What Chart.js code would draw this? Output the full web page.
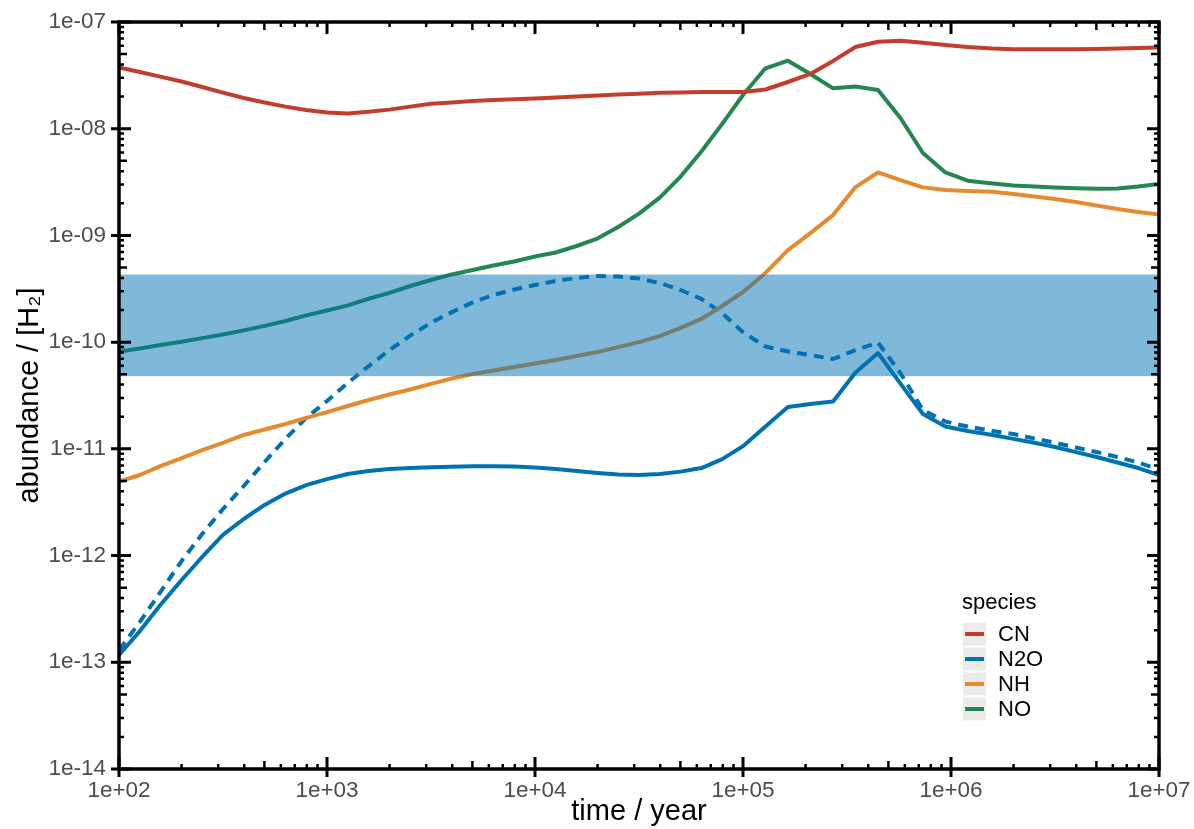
<!DOCTYPE html>
<html lang="en">
<head>
<meta charset="UTF-8">
<title>Abundance vs time</title>
<script src="https://cdn.jsdelivr.net/npm/chart.js@4.4.1/dist/chart.umd.min.js"></script>
<style>
  html, body { margin: 0; padding: 0; background: #fff; }
  #wrap { width: 1194px; height: 829px; }
</style>
</head>
<body>
<div id="wrap"><canvas id="abund"></canvas></div>
<script>
// time / year
const times = [
  100, 126, 158, 200, 251, 316, 398, 501, 631, 794,
  1000, 1259, 1585, 1995, 2512, 3162, 3981, 5012, 6310, 7943,
  10000, 12589, 15849, 19953, 25119, 31623, 39811, 50119, 63096, 79433,
  100000, 128230, 164440, 210860, 271020, 347540, 445660, 571480, 732820, 939720,
  1202000, 1585000, 1995000, 2512000, 3162000, 3981000, 5012000, 6310000, 7943000, 10000000
];

const cn = [
  3.75e-8, 3.40e-8, 3.08e-8, 2.77e-8, 2.46e-8, 2.18e-8, 1.94e-8, 1.76e-8, 1.61e-8, 1.50e-8,
  1.42e-8, 1.39e-8, 1.44e-8, 1.51e-8, 1.61e-8, 1.71e-8, 1.76e-8, 1.82e-8, 1.86e-8, 1.89e-8,
  1.92e-8, 1.96e-8, 2.00e-8, 2.05e-8, 2.09e-8, 2.13e-8, 2.17e-8, 2.19e-8, 2.21e-8, 2.21e-8,
  2.21e-8, 2.33e-8, 2.74e-8, 3.26e-8, 4.32e-8, 5.83e-8, 6.53e-8, 6.68e-8, 6.40e-8, 6.08e-8,
  5.83e-8, 5.65e-8, 5.56e-8, 5.55e-8, 5.55e-8, 5.56e-8, 5.58e-8, 5.65e-8, 5.70e-8, 5.77e-8
];

const n2o = [
  1.17e-13, 1.96e-13, 3.44e-13, 5.90e-13, 9.70e-13, 1.56e-12, 2.20e-12, 2.98e-12, 3.81e-12, 4.58e-12,
  5.21e-12, 5.81e-12, 6.19e-12, 6.47e-12, 6.61e-12, 6.71e-12, 6.79e-12, 6.86e-12, 6.87e-12, 6.82e-12,
  6.68e-12, 6.47e-12, 6.19e-12, 5.94e-12, 5.75e-12, 5.69e-12, 5.81e-12, 6.12e-12, 6.61e-12, 8.02e-12,
  1.06e-11, 1.62e-11, 2.47e-11, 2.63e-11, 2.78e-11, 5.19e-11, 7.91e-11, 4.09e-11, 2.12e-11, 1.62e-11,
  1.47e-11, 1.35e-11, 1.24e-11, 1.14e-11, 1.04e-11, 9.33e-12, 8.39e-12, 7.45e-12, 6.61e-12, 5.69e-12
];

// second N2O run (dashed)
const n2oAlt = [
  1.30e-13, 2.39e-13, 4.55e-13, 8.89e-13, 1.59e-12, 2.73e-12, 4.49e-12, 7.53e-12, 1.24e-11, 1.95e-11,
  2.81e-11, 4.14e-11, 5.97e-11, 8.43e-11, 1.15e-10, 1.52e-10, 1.91e-10, 2.36e-10, 2.77e-10, 3.11e-10,
  3.43e-10, 3.74e-10, 3.99e-10, 4.17e-10, 4.12e-10, 3.94e-10, 3.58e-10, 3.08e-10, 2.54e-10, 1.87e-10,
  1.24e-10, 9.10e-11, 8.17e-11, 7.57e-11, 6.95e-11, 8.43e-11, 9.91e-11, 5.14e-11, 2.31e-11, 1.80e-11,
  1.62e-11, 1.47e-11, 1.38e-11, 1.25e-11, 1.14e-11, 1.03e-11, 9.33e-12, 8.39e-12, 7.45e-12, 6.40e-12
];

const nh = [
  4.94e-12, 5.69e-12, 6.90e-12, 8.20e-12, 9.75e-12, 1.14e-11, 1.35e-11, 1.52e-11, 1.71e-11, 1.95e-11,
  2.21e-11, 2.52e-11, 2.87e-11, 3.23e-11, 3.60e-11, 4.06e-11, 4.56e-11, 5.02e-11, 5.42e-11, 5.85e-11,
  6.31e-11, 6.81e-11, 7.41e-11, 8.07e-11, 8.99e-11, 1.00e-10, 1.14e-10, 1.36e-10, 1.65e-10, 2.18e-10,
  2.95e-10, 4.45e-10, 7.29e-10, 1.05e-9, 1.55e-9, 2.84e-9, 3.89e-9, 3.30e-9, 2.82e-9, 2.67e-9,
  2.61e-9, 2.57e-9, 2.44e-9, 2.32e-9, 2.19e-9, 2.06e-9, 1.91e-9, 1.77e-9, 1.66e-9, 1.57e-9
];

const no = [
  8.15e-11, 8.73e-11, 9.40e-11, 1.01e-10, 1.09e-10, 1.18e-10, 1.29e-10, 1.42e-10, 1.58e-10, 1.78e-10,
  1.98e-10, 2.21e-10, 2.55e-10, 2.90e-10, 3.36e-10, 3.82e-10, 4.31e-10, 4.74e-10, 5.22e-10, 5.70e-10,
  6.34e-10, 6.92e-10, 7.96e-10, 9.35e-10, 1.20e-9, 1.60e-9, 2.26e-9, 3.56e-9, 6.11e-9, 1.11e-8,
  2.07e-8, 3.68e-8, 4.34e-8, 3.26e-8, 2.39e-8, 2.49e-8, 2.31e-8, 1.26e-8, 5.92e-9, 3.89e-9,
  3.26e-9, 3.07e-9, 2.94e-9, 2.87e-9, 2.81e-9, 2.77e-9, 2.74e-9, 2.75e-9, 2.87e-9, 3.03e-9
];

const species = ['CN', 'N2O', 'NH', 'NO'];
const colors = ['#C33D2C', '#0072B2', '#E68A2E', '#23874F'];

// observed range shown as a band
const bandLow = 4.8e-11;
const bandHigh = 4.3e-10;

const xTicks = [1e2, 1e3, 1e4, 1e5, 1e6, 1e7];
const xTickLabels = ['1e+02', '1e+03', '1e+04', '1e+05', '1e+06', '1e+07'];
const yTicks = [1e-14, 1e-13, 1e-12, 1e-11, 1e-10, 1e-9, 1e-8, 1e-7];
const yTickLabels = ['1e-14', '1e-13', '1e-12', '1e-11', '1e-10', '1e-09', '1e-08', '1e-07'];

const FONT = '"Helvetica Neue", Helvetica, "Liberation Sans", Arial, sans-serif';

function pts(vals) {
  return times.map((t, i) => ({x: t, y: vals[i]}));
}

const bandPlugin = {
  id: 'band',
  afterDatasetsDraw(chart) {
    const {ctx, chartArea: a, scales: {y}} = chart;
    const top = y.getPixelForValue(bandHigh);
    const bot = y.getPixelForValue(bandLow);
    ctx.save();
    ctx.fillStyle = 'rgba(0, 114, 178, 0.5)';
    ctx.fillRect(a.left, top, a.right - a.left, bot - top);
    ctx.restore();
  }
};

const framePlugin = {
  id: 'frame',
  afterDraw(chart) {
    const {ctx, chartArea: a, scales: {x, y}} = chart;
    ctx.save();
    ctx.strokeStyle = '#000';
    ctx.lineCap = 'butt';
    // ticks
    for (const d of xTicks) {
      for (let m = 1; m <= 9; m++) {
        const v = m * d;
        if (v > x.max * 1.0001) break;
        const px = x.getPixelForValue(v);
        const len = m === 1 ? 12 : (m === 5 ? 8 : 5);
        ctx.lineWidth = m === 1 ? 3 : 2.5;
        ctx.beginPath();
        ctx.moveTo(px, a.bottom + (m === 1 ? 8 : 0));
        ctx.lineTo(px, a.bottom - len);
        ctx.moveTo(px, a.top);
        ctx.lineTo(px, a.top + len);
        ctx.stroke();
      }
    }
    for (const d of yTicks) {
      for (let m = 1; m <= 9; m++) {
        const v = m * d;
        if (v > y.max * 1.0001) break;
        const py = y.getPixelForValue(v);
        const len = m === 1 ? 12 : (m === 5 ? 8 : 5);
        ctx.lineWidth = m === 1 ? 3 : 2.5;
        ctx.beginPath();
        ctx.moveTo(a.left - (m === 1 ? 8 : 0), py);
        ctx.lineTo(a.left + len, py);
        ctx.moveTo(a.right, py);
        ctx.lineTo(a.right - len, py);
        ctx.stroke();
      }
    }
    ctx.lineWidth = 3.5;
    ctx.strokeRect(a.left, a.top, a.right - a.left, a.bottom - a.top);

    // legend
    const lx = a.right - 197;
    const ly = a.bottom - 166;
    ctx.font = '22px ' + FONT;
    ctx.fillStyle = '#000';
    ctx.textBaseline = 'middle';
    ctx.textAlign = 'left';
    ctx.fillText('species', lx, ly);
    species.forEach((s, i) => {
      const cy = ly + 31 + i * 25;
      ctx.fillStyle = '#EBEBEB';
      ctx.fillRect(lx + 1, cy - 11.5, 23, 23);
      ctx.strokeStyle = colors[i];
      ctx.lineWidth = 4;
      ctx.beginPath();
      ctx.moveTo(lx + 3, cy);
      ctx.lineTo(lx + 22, cy);
      ctx.stroke();
      ctx.fillStyle = '#000';
      ctx.fillText(s, lx + 36, cy + 1);
    });
    ctx.restore();
  }
};

const lineDefaults = {
  borderWidth: 4,
  pointRadius: 0,
  tension: 0,
  fill: false,
  borderJoinStyle: 'round'
};

new Chart(document.getElementById('abund'), {
  type: 'line',
  data: {
    datasets: [
      Object.assign({label: species[0], data: pts(cn), borderColor: colors[0]}, lineDefaults),
      Object.assign({label: species[1], data: pts(n2o), borderColor: colors[1]}, lineDefaults),
      Object.assign({label: species[2], data: pts(nh), borderColor: colors[2]}, lineDefaults),
      Object.assign({label: species[3], data: pts(no), borderColor: colors[3]}, lineDefaults),
      Object.assign({label: 'N2O (alt)', data: pts(n2oAlt), borderColor: colors[1], borderDash: [10, 7]}, lineDefaults)
    ]
  },
  options: {
    responsive: true,
    maintainAspectRatio: false,
    animation: false,
    layout: { padding: { left: 0, top: 22, right: 35, bottom: 0 } },
    plugins: {
      legend: { display: false },
      tooltip: { enabled: false }
    },
    scales: {
      x: {
        type: 'logarithmic',
        min: 1e2,
        max: 1e7,
        afterBuildTicks: s => { s.ticks = xTicks.map(v => ({value: v})); },
        afterFit: s => { s.height = 60; s.paddingLeft = 0; s.paddingRight = 0; },
        grid: { display: false, drawTicks: false },
        border: { display: false },
        ticks: {
          autoSkip: false,
          maxRotation: 0,
          padding: 8,
          color: '#4D4D4D',
          font: { family: FONT, size: 22.5 },
          callback: (v, i) => xTickLabels[i]
        },
        title: {
          display: true,
          text: 'time / year',
          color: '#000',
          padding: { top: 0, bottom: 0 },
          font: { family: FONT, size: 29 }
        }
      },
      y: {
        type: 'logarithmic',
        min: 1e-14,
        max: 1e-7,
        afterBuildTicks: s => { s.ticks = yTicks.map(v => ({value: v})); },
        afterFit: s => { s.width = 119; s.paddingTop = 0; s.paddingBottom = 0; },
        grid: { display: false, drawTicks: false },
        border: { display: false },
        ticks: {
          autoSkip: false,
          padding: 13,
          color: '#4D4D4D',
          font: { family: FONT, size: 22.5 },
          callback: (v, i) => yTickLabels[i]
        },
        title: {
          display: true,
          text: 'abundance / [H\u2082]',
          color: '#000',
          padding: { top: 13, bottom: 0 },
          font: { family: FONT, size: 29 }
        }
      }
    }
  },
  plugins: [bandPlugin, framePlugin]
});
</script>
</body>
</html>
